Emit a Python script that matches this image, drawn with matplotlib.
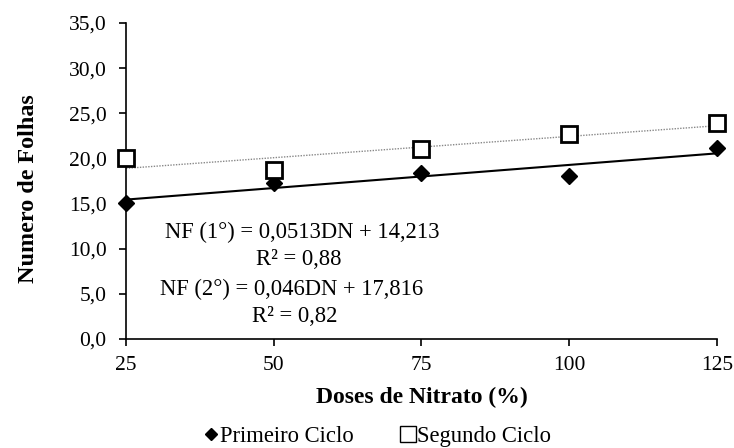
import numpy as np
import matplotlib
matplotlib.use("Agg")
import matplotlib.pyplot as plt
from matplotlib.lines import Line2D
from matplotlib.ticker import FuncFormatter

plt.rcParams['font.family'] = ['Liberation Serif', 'DejaVu Serif']

doses = [25, 50, 75, 100, 125]
primeiro = [15.1, 17.3, 18.4, 18.1, 21.1]
segundo = [20.0, 18.7, 21.0, 22.7, 23.9]
eq1 = "NF (1°) = 0,0513DN + 14,213"
r1 = "R² = 0,88"
eq2 = "NF (2°) = 0,046DN + 17,816"
r2 = "R² = 0,82"

fig = plt.figure(figsize=(7.34, 4.48), dpi=100)
ax = fig.add_axes([0.1717, 0.2433, 0.805, 0.7054])

x = np.array(doses, dtype=float)
p1 = np.polyfit(x, primeiro, 1)
p2 = np.polyfit(x, segundo, 1)
xs = np.array([25, 125], dtype=float)
ax.plot(xs, np.polyval(p2, xs), color='#888888', lw=1.0, ls=(0, (1, 1)), zorder=2)
ax.plot(xs, np.polyval(p1, xs), color='black', lw=1.5, zorder=2)

ax.plot(x, primeiro, ls='none', marker='D', ms=8.5, color='black', zorder=4, clip_on=False)
ax.plot(x, segundo, ls='none', marker='s', ms=11, mfc='white', mec='black', mew=2, zorder=5, clip_on=False)

ax.set_xlim(25, 125)
ax.set_ylim(0, 35)
ax.set_xticks(doses)
ax.set_yticks(np.arange(0, 35.1, 5))
ax.yaxis.set_major_formatter(FuncFormatter(lambda v, p: f"{v:.1f}".replace('.', ',')))
for s in ['top', 'right']:
    ax.spines[s].set_visible(False)
for s in ['left', 'bottom']:
    ax.spines[s].set_linewidth(1.2)
ax.tick_params(direction='out', length=5, width=1.2, labelsize=15.5)
ax.tick_params(axis='y', pad=9)
ax.tick_params(axis='x', pad=7)

ax.set_xlabel("Doses de Nitrato (%)", fontsize=17, fontweight='bold', labelpad=9)
ax.set_ylabel("Numero de Folhas", fontsize=17.4, fontweight='bold')
ax.yaxis.set_label_coords(-0.147, 0.475)

ax.text(54.8, 11.85, eq1, ha='center', va='center', fontsize=16.3)
ax.text(54.3, 8.75, r1, ha='center', va='center', fontsize=16.3)
ax.text(53.0, 5.45, eq2, ha='center', va='center', fontsize=16.3)
ax.text(53.5, 2.45, r2, ha='center', va='center', fontsize=16.3)

handles = [Line2D([], [], ls='none', marker='D', ms=6, color='black'),
           Line2D([], [], ls='none', marker='s', ms=11, mfc='white', mec='black', mew=1.0)]
fig.legend(handles, ["Primeiro Ciclo", "Segundo Ciclo"], loc='center', bbox_to_anchor=(0.514, 0.025),
           ncol=2, frameon=False, fontsize=16.3, handlelength=0.6, handletextpad=0.1, columnspacing=2.1)

fig.savefig("out.png", dpi=100)
